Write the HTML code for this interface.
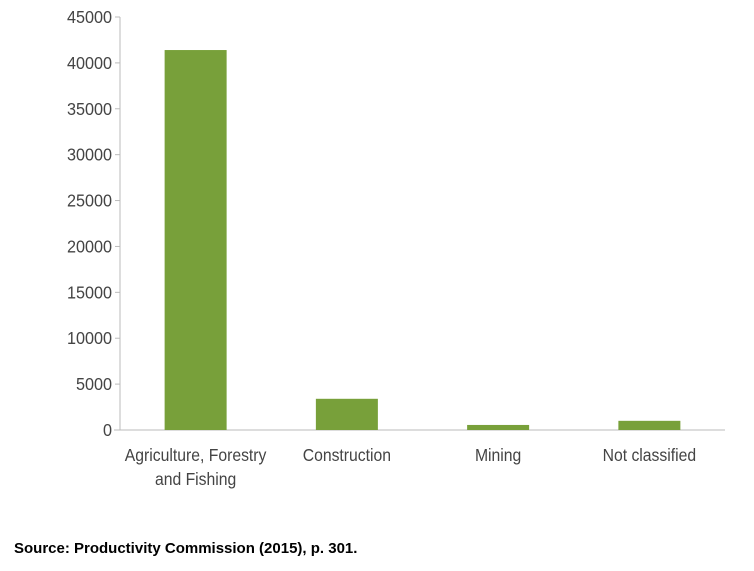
<!DOCTYPE html>
<html><head><meta charset="utf-8"><style>
body{margin:0;background:#fff;width:754px;height:566px;overflow:hidden;font-family:"Liberation Sans",sans-serif}
svg text{font-family:"Liberation Sans",sans-serif}
</style></head><body>
<svg id="chart" width="754" height="566" xmlns="http://www.w3.org/2000/svg">
<g id="axes"></g><g id="bars"></g>
<text x="14" y="553" font-size="15" font-weight="bold" fill="#000">Source: Productivity Commission (2015), p. 301.</text>
</svg>
<script>
const categories = [["Agriculture, Forestry","and Fishing"],["Construction"],["Mining"],["Not classified"]];
const values = [41400, 3400, 550, 1000];
const ticks = [0,5000,10000,15000,20000,25000,30000,35000,40000,45000];
const ns="http://www.w3.org/2000/svg";
const y0=430, y1=17, vmax=45000, xl=120, xr=725;
const yScale=v=>y0-(v/vmax)*(y0-y1);
const bandW=(xr-xl)/categories.length;
const xCenter=i=>xl+bandW*(i+0.5);
const barW=62;
function mk(tag,attrs,parent){const e=document.createElementNS(ns,tag);for(const k in attrs)e.setAttribute(k,attrs[k]);parent.appendChild(e);return e;}
const axes=document.getElementById('axes'), bars=document.getElementById('bars');
const ya=mk('line',{x1:xl,x2:xl,y1:y1,y2:y0,stroke:'#bbb','stroke-width':1},axes);


const xa=mk('line',{x1:xl-6,x2:xr,y1:y0,y2:y0,stroke:'#bbb','stroke-width':1},axes);


ticks.forEach(t=>{
  const y=yScale(t);
  const tk=mk('line',{x1:xl-5,x2:xl,y1:y,y2:y,stroke:'#bbb'},axes);
  
  
  const tx=mk('text',{x:xl-8,y:y+6,'text-anchor':'end','font-size':18,fill:'#444',transform:`translate(${xl-8},0) scale(0.9,1) translate(${-(xl-8)},0)`},axes);
  tx.textContent=t;
  
  
});
values.forEach((v,i)=>{
  const cx=xCenter(i);
  const r=mk('rect',{x:cx-barW/2,y:yScale(v),width:barW,height:y0-yScale(v),fill:'#78a03a'},bars);
  
  
  categories[i].forEach((line,j)=>{
    const t=mk('text',{x:cx,y:461+j*24,'text-anchor':'middle','font-size':17.5,fill:'#444',transform:`translate(${cx},0) scale(0.9,1) translate(${-cx},0)`},bars);
    t.textContent=line;
    
    
  });
});
</script>
</body></html>
